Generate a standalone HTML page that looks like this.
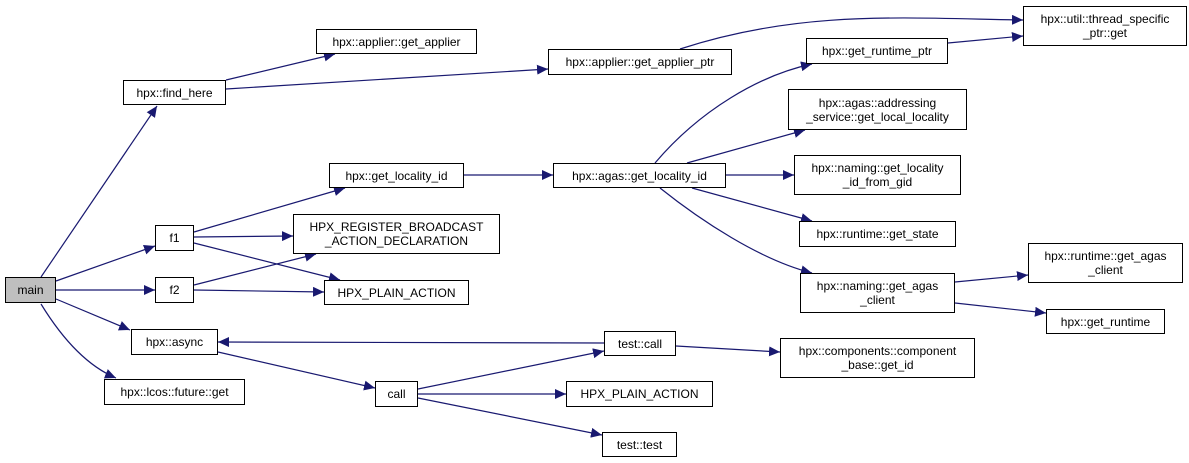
<!DOCTYPE html>
<html><head><meta charset="utf-8"><style>
html,body{margin:0;padding:0;background:#fff;}
.wrap{position:relative;width:1189px;height:463px;overflow:hidden;font-family:"Liberation Sans",sans-serif;}
.n{position:absolute;box-sizing:border-box;border:1px solid #000;background:#fff;font-size:12px;line-height:14px;text-align:center;display:flex;align-items:center;justify-content:center;color:#000;white-space:nowrap;}
svg{position:absolute;left:0;top:0;}
</style></head><body><div class="wrap">
<svg width="1189" height="463">
<defs><marker id="a" markerUnits="userSpaceOnUse" markerWidth="12" markerHeight="10" refX="11" refY="5" orient="auto"><path d="M0,0 L11,5 L0,10 Z" fill="#191970"/></marker></defs>
<g fill="none" stroke="#191970" stroke-width="1.2" marker-end="url(#a)">
<path d="M41,277 L157,106"/>
<path d="M56,281 L155,246"/>
<path d="M56,290 L155,290"/>
<path d="M56,299 L130,330"/>
<path d="M41,304 C60,335 85,365 116,378"/>
<path d="M226,80 L335,54"/>
<path d="M226,89 L548,69"/>
<path d="M680,49 C800,10 900,18 1023,20"/>
<path d="M948,43 L1023,36"/>
<path d="M194,232 L345,188"/>
<path d="M194,237 L293,236"/>
<path d="M194,243 L340,280"/>
<path d="M194,285 L316,254"/>
<path d="M194,290 L324,292"/>
<path d="M464,175 L553,175"/>
<path d="M655,163 C700,110 760,75 812,64"/>
<path d="M687,163 L805,130"/>
<path d="M726,175 L794,175"/>
<path d="M692,188 L812,221"/>
<path d="M660,188 C700,220 760,260 812,273"/>
<path d="M955,282 L1028,275"/>
<path d="M955,303 L1046,313"/>
<path d="M604,343 L218,342"/>
<path d="M218,352 L375,388"/>
<path d="M418,389 L604,351"/>
<path d="M418,394 L566,394"/>
<path d="M418,398 L602,435"/>
<path d="M676,346 L780,352"/>
</g></svg>
<div class="n" style="left:5px;top:277px;width:51px;height:26px;background:#bfbfbf">main</div>
<div class="n" style="left:123px;top:80px;width:103px;height:25px">hpx::find_here</div>
<div class="n" style="left:316px;top:29px;width:161px;height:25px">hpx::applier::get_applier</div>
<div class="n" style="left:548px;top:49px;width:184px;height:26px">hpx::applier::get_applier_ptr</div>
<div class="n" style="left:1023px;top:6px;width:164px;height:40px">hpx::util::thread_specific<br>_ptr::get</div>
<div class="n" style="left:806px;top:38px;width:142px;height:26px">hpx::get_runtime_ptr</div>
<div class="n" style="left:788px;top:89px;width:179px;height:41px">hpx::agas::addressing<br>_service::get_local_locality</div>
<div class="n" style="left:329px;top:163px;width:135px;height:25px">hpx::get_locality_id</div>
<div class="n" style="left:553px;top:163px;width:173px;height:25px">hpx::agas::get_locality_id</div>
<div class="n" style="left:794px;top:155px;width:167px;height:40px">hpx::naming::get_locality<br>_id_from_gid</div>
<div class="n" style="left:293px;top:214px;width:207px;height:40px">HPX_REGISTER_BROADCAST<br>_ACTION_DECLARATION</div>
<div class="n" style="left:799px;top:221px;width:157px;height:26px">hpx::runtime::get_state</div>
<div class="n" style="left:155px;top:225px;width:39px;height:26px">f1</div>
<div class="n" style="left:155px;top:277px;width:39px;height:26px">f2</div>
<div class="n" style="left:324px;top:280px;width:145px;height:25px">HPX_PLAIN_ACTION</div>
<div class="n" style="left:800px;top:273px;width:155px;height:40px">hpx::naming::get_agas<br>_client</div>
<div class="n" style="left:1028px;top:243px;width:155px;height:40px">hpx::runtime::get_agas<br>_client</div>
<div class="n" style="left:1046px;top:309px;width:119px;height:25px">hpx::get_runtime</div>
<div class="n" style="left:131px;top:329px;width:87px;height:26px">hpx::async</div>
<div class="n" style="left:604px;top:331px;width:72px;height:25px">test::call</div>
<div class="n" style="left:780px;top:338px;width:195px;height:40px">hpx::components::component<br>_base::get_id</div>
<div class="n" style="left:104px;top:379px;width:141px;height:26px">hpx::lcos::future::get</div>
<div class="n" style="left:375px;top:381px;width:43px;height:26px">call</div>
<div class="n" style="left:566px;top:381px;width:147px;height:26px">HPX_PLAIN_ACTION</div>
<div class="n" style="left:602px;top:432px;width:75px;height:25px">test::test</div>
</div></body></html>
